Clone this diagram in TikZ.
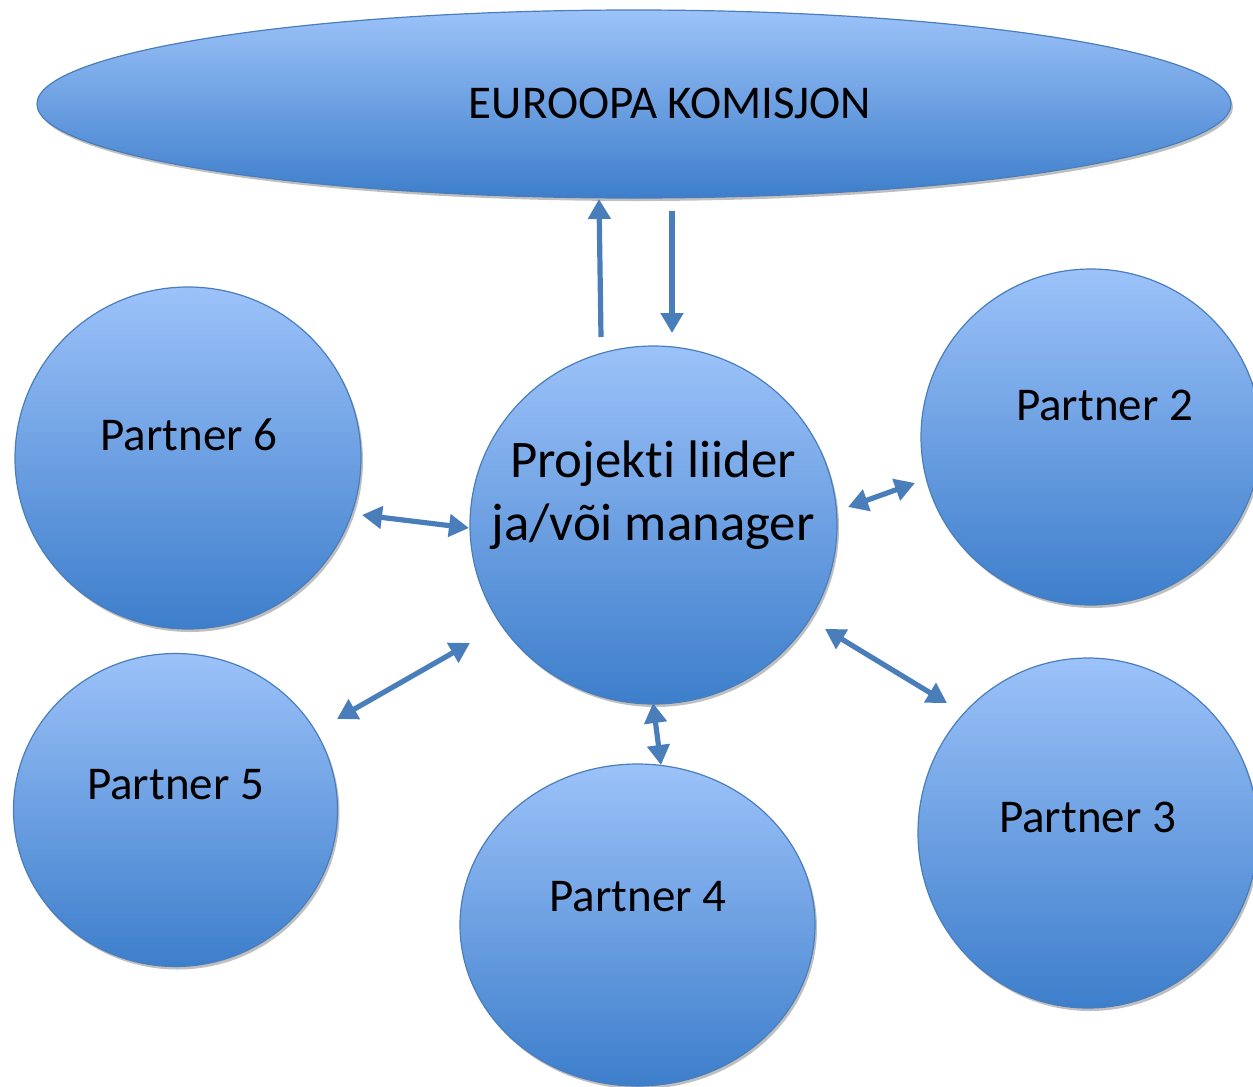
\documentclass[tikz,border=0pt]{standalone}
\usepackage{fontspec}
\setmainfont{Carlito}[Ligatures={NoCommon}]
\usetikzlibrary{shapes.geometric,arrows.meta,shadows}
\definecolor{topblue}{HTML}{9CC2F9}
\definecolor{botblue}{HTML}{3D7ECB}
\definecolor{edgeblue}{HTML}{4A7EBB}
\tikzset{
  bubble/.style={ellipse, inner sep=0pt, draw=edgeblue, line width=0.6pt,
    top color=topblue, bottom color=botblue,
    drop shadow={opacity=0.25, shadow xshift=1pt, shadow yshift=-1.5pt, fill=black}},
  lbl/.style={inner sep=0pt, font=\fontsize{23.5}{28}\selectfont, text=black},
  link/.style={draw=edgeblue, line width=2.6pt, {Triangle[length=10pt,width=11pt]}-{Triangle[length=10pt,width=11pt]}},
  onelink/.style={draw=edgeblue, line width=2.6pt, -{Triangle[length=10pt,width=11pt]}}
}
\begin{document}
\begin{tikzpicture}[x=0.5pt,y=-0.5pt]
\useasboundingbox (0,0) rectangle (1253,1087);
% shapes
\node[bubble, minimum width=597pt, minimum height=94pt] (ek) at (634,104) {};
\node[bubble, minimum width=173pt, minimum height=171pt] (p6) at (188,458) {};
\node[bubble, minimum width=170pt, minimum height=168pt] (p2) at (1091,437) {};
\node[bubble, minimum width=162pt, minimum height=156.5pt] (p5) at (175.5,810) {};
\node[bubble, minimum width=177.5pt, minimum height=161pt] (p4) at (637.5,925) {};
\node[bubble, minimum width=170pt, minimum height=175pt] (p3) at (1088,833) {};
\node[bubble, minimum width=183.5pt, minimum height=179pt] (lead) at (653.5,525) {};
% texts
\node[lbl] (tek) at (670,103) {EUROOPA KOMISJON};
\node[lbl] (t6) at (189,435) {Partner 6};
\node[lbl] (t2) at (1104.5,405) {Partner 2};
\node[lbl] (t5) at (175.5,785) {Partner 5};
\node[lbl] (t4) at (638,897) {Partner 4};
\node[lbl] (t3) at (1087.5,817) {Partner 3};
\node[lbl, font=\fontsize{26.4}{31.5}\selectfont, align=center, anchor=base] (tl) at (653,540) {Projekti liider\\ja/või manager};
% connector ends
\coordinate (u1) at (601,337); \coordinate (u2) at (599,199);
\coordinate (d1) at (672,211); \coordinate (d2) at (672,333);
\coordinate (a6) at (362,515); \coordinate (b6) at (469,528);
\coordinate (a2) at (848,507); \coordinate (b2) at (915,483);
\coordinate (a5) at (337,719); \coordinate (b5) at (470,643);
\coordinate (a4) at (653,703); \coordinate (b4) at (661,765);
\coordinate (a3) at (825,629); \coordinate (b3) at (947,703);
% connectors
\draw[onelink] (u1) -- (u2);
\draw[onelink] (d1) -- (d2);
\draw[link] (a6) -- (b6);
\draw[link] (a2) -- (b2);
\draw[link] (a5) -- (b5);
\draw[link] (a4) -- (b4);
\draw[link] (a3) -- (b3);
\end{tikzpicture}
\end{document}
